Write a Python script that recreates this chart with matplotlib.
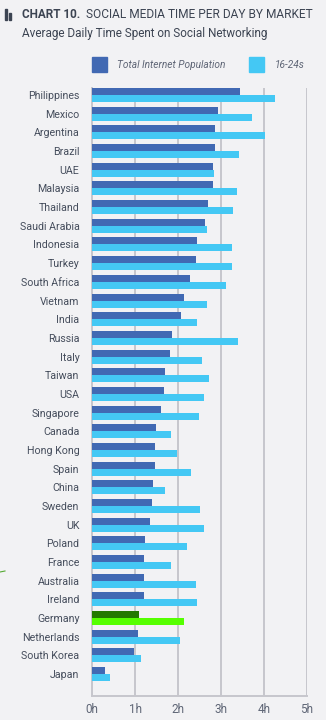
import matplotlib
matplotlib.use("Agg")
import matplotlib.pyplot as plt
import numpy as np

countries = ["Philippines", "Mexico", "Argentina", "Brazil", "UAE", "Malaysia", "Thailand",
             "Saudi Arabia", "Indonesia", "Turkey", "South Africa", "Vietnam", "India", "Russia",
             "Italy", "Taiwan", "USA", "Singapore", "Canada", "Hong Kong", "Spain", "China",
             "Sweden", "UK", "Poland", "France", "Australia", "Ireland", "Germany",
             "Netherlands", "South Korea", "Japan"]
total_pop = [3.44, 2.93, 2.86, 2.86, 2.81, 2.81, 2.70, 2.63, 2.44, 2.42, 2.28, 2.14, 2.07, 1.86,
             1.81, 1.70, 1.67, 1.60, 1.49, 1.47, 1.47, 1.42, 1.40, 1.35, 1.23, 1.21, 1.21, 1.21,
             1.09, 1.07, 0.98, 0.30]
young = [4.26, 3.72, 4.02, 3.42, 2.84, 3.37, 3.28, 2.67, 3.26, 3.26, 3.12, 2.67, 2.44, 3.40,
         2.56, 2.72, 2.60, 2.49, 1.84, 1.98, 2.30, 1.70, 2.51, 2.60, 2.21, 1.84, 2.42, 2.44,
         2.14, 2.05, 1.14, 0.42]
x_ticks = [0, 1, 2, 3, 4, 5]
x_labels = ["0h", "1h", "2h", "3h", "4h", "5h"]
highlight = "Germany"

BG = "#f2f2f4"
DARK = "#4169b3"
LIGHT = "#44c8f4"
HL_DARK = "#237a00"
HL_LIGHT = "#55ff00"
GRID = "#c6c6cc"
TXT = "#3c4452"
LBL = "#454d5c"

plt.rcParams["font.family"] = ["Roboto", "DejaVu Sans"]

fig = plt.figure(figsize=(3.26, 7.2), dpi=100, facecolor=BG)
ax = fig.add_axes([92/326, 1-696/720, (307-92)/326, (696-88)/720], facecolor=BG)

y = np.arange(len(countries))
h = 0.375
c1 = [HL_DARK if c == highlight else DARK for c in countries]
c2 = [HL_LIGHT if c == highlight else LIGHT for c in countries]
ax.barh(y - h/2, total_pop, height=h, color=c1, zorder=3)
ax.barh(y + h/2, young, height=h, color=c2, zorder=3)

ax.set_xlim(0, 5)
ax.set_ylim(32.17, -0.375)
ax.set_yticks(y)
ax.set_yticklabels(countries, fontsize=7.7, color=LBL)
ax.set_xticks(x_ticks)
ax.set_xticklabels(x_labels, fontsize=8.5, color="#5f6676")
ax.tick_params(axis="both", length=0)
ax.tick_params(axis="y", pad=9)
ax.tick_params(axis="x", pad=5)
ax.grid(axis="x", color=GRID, linewidth=1.4, zorder=0)
for s in ["top", "right"]:
    ax.spines[s].set_visible(False)
for s in ["left", "bottom"]:
    ax.spines[s].set_color(GRID)
    ax.spines[s].set_linewidth(1.4)

# Title block
fig.patches.append(plt.Rectangle((5/326, 1-20/720), 2/326, 11/720, transform=fig.transFigure, color=TXT))
fig.patches.append(plt.Rectangle((8.5/326, 1-20/720), 2/326, 7/720, transform=fig.transFigure, color=TXT))
fig.text(22/326, 1-15/720, "CHART 10.", fontsize=8.5, fontweight="bold", color=TXT, va="center")
fig.text(86/326, 1-15/720, "SOCIAL MEDIA TIME PER DAY BY MARKET", fontsize=8.6, color=TXT, va="center")
fig.text(22/326, 1-33/720, "Average Daily Time Spent on Social Networking", fontsize=8.5, color=TXT, va="center")

# Legend
fig.patches.append(plt.Rectangle((92/326, 1-72/720), 15/326, 15/720, transform=fig.transFigure, color=DARK))
fig.text(117/326, 1-64.5/720, "Total Internet Population", fontsize=7.3, style="italic", color="#5f6676", va="center")
fig.patches.append(plt.Rectangle((249/326, 1-72/720), 15/326, 15/720, transform=fig.transFigure, color=LIGHT))
fig.text(275/326, 1-64.5/720, "16-24s", fontsize=7.3, style="italic", color="#5f6676", va="center")

# small green mark at left edge
fig.add_artist(plt.Line2D([0, 5/326], [1-572/720, 1-571/720], transform=fig.transFigure, color="#55aa33", linewidth=0.8))

fig.savefig("out.png", dpi=100, facecolor=BG)
